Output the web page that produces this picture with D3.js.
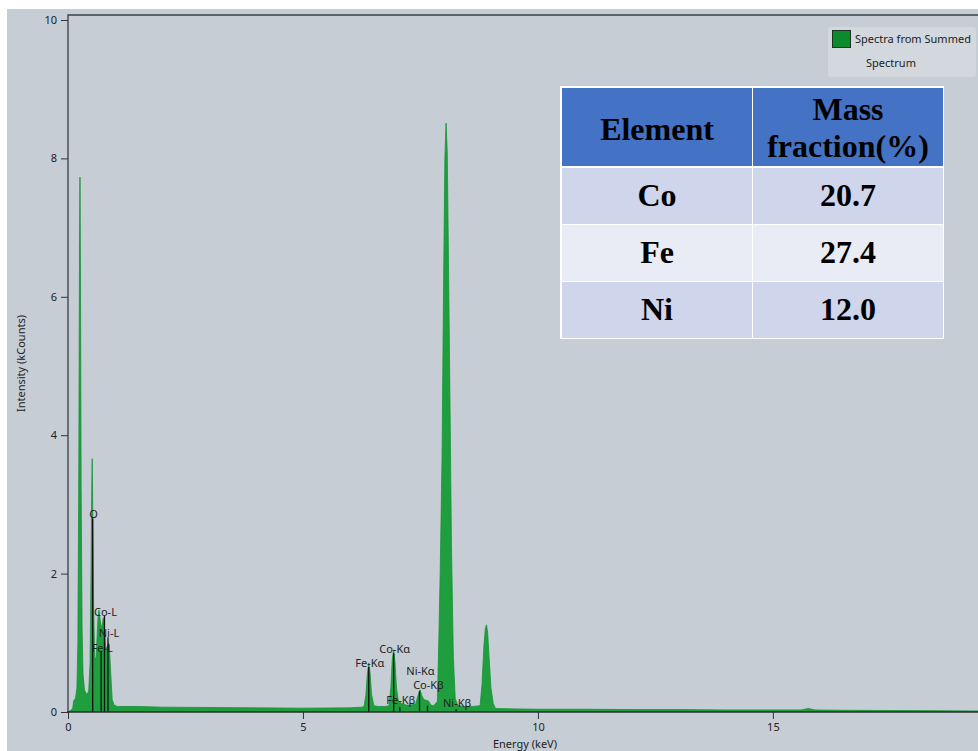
<!DOCTYPE html>
<html>
<head>
<meta charset="utf-8">
<script src="https://cdn.jsdelivr.net/npm/d3@7/dist/d3.min.js"></script>
<style>
  body { margin: 0; background: #fff; }
  text { font-family: "Noto Sans", sans-serif; }
</style>
</head>
<body>
<svg width="978" height="751"></svg>
<script>
// spectrum: energy (keV) and intensity (kCounts)
var energy = [0.00, 0.05, 0.10, 0.12, 0.16, 0.19, 0.21, 0.23, 0.245, 0.255, 0.265, 0.28, 0.30, 0.32, 0.35, 0.40,
  0.44, 0.47, 0.49, 0.505, 0.515, 0.525, 0.545, 0.57, 0.60, 0.62, 0.64, 0.66, 0.69, 0.72, 0.75, 0.77, 0.80,
  0.83, 0.86, 0.88, 0.91, 0.94, 0.98, 1.05, 1.5, 2.0, 3.0, 4.0, 5.0, 6.0, 6.25,
  6.30, 6.34, 6.37, 6.40, 6.43, 6.46, 6.51, 6.6, 6.75,
  6.83, 6.87, 6.90, 6.93, 6.96, 6.99, 7.03, 7.06, 7.10, 7.2, 7.3,
  7.40, 7.44, 7.49, 7.53, 7.57, 7.62, 7.67, 7.72, 7.78,
  7.86, 7.89, 7.92, 7.96, 7.99, 8.02, 8.045, 8.07, 8.10, 8.13, 8.16, 8.20, 8.24, 8.29, 8.4, 8.6,
  8.77, 8.81, 8.85, 8.88, 8.905, 8.93, 8.96, 9.00, 9.05, 9.1,
  9.5, 10, 11, 12, 13, 14, 15, 15.6, 15.75, 15.9, 16.5, 18, 19.45];
var counts = [0.00, 0.02, 0.05, 0.16, 0.20, 0.35, 1.0, 3.5, 6.8, 7.73, 6.5, 3.2, 1.2, 0.55, 0.32, 0.25,
  0.30, 0.70, 2.0, 3.2, 3.66, 3.0, 1.5, 0.75, 0.80, 1.10, 1.38, 1.47, 1.30, 1.20, 1.36, 1.30, 0.95,
  0.92, 1.0, 0.96, 0.55, 0.18, 0.10, 0.08, 0.08, 0.07, 0.065, 0.06, 0.055, 0.06, 0.07,
  0.08, 0.25, 0.55, 0.71, 0.55, 0.25, 0.09, 0.08, 0.08,
  0.09, 0.35, 0.75, 0.90, 0.70, 0.35, 0.16, 0.15, 0.12, 0.10, 0.10,
  0.12, 0.22, 0.32, 0.24, 0.18, 0.17, 0.16, 0.10, 0.09,
  0.15, 1.0, 2.0, 3.7, 6.0, 8.0, 8.51, 8.1, 6.3, 4.4, 2.4, 0.8, 0.2, 0.10, 0.08, 0.08,
  0.09, 0.40, 0.95, 1.20, 1.26, 1.15, 0.80, 0.35, 0.12, 0.05,
  0.045, 0.04, 0.04, 0.035, 0.035, 0.03, 0.03, 0.03, 0.05, 0.03, 0.025, 0.02, 0.015];

// element marker lines
var markerNames = ["O", "Fe-L", "Co-L", "Ni-L", "Fe-Kα", "Co-Kα", "Fe-Kβ", "Ni-Kα", "Co-Kβ", "Ni-Kβ"];
var markerEnergy = [0.525, 0.705, 0.776, 0.851, 6.40, 6.93, 7.06, 7.48, 7.65, 8.26];
var markerTop = [2.8, 0.87, 1.39, 1.08, 0.65, 0.85, 0.07, 0.30, 0.09, 0.045];
var markerLabelAt = [2.8, 0.87, 1.39, 1.08, 0.65, 0.85, 0.115, 0.53, 0.33, 0.07];

var yTicks = [0, 2, 4, 6, 8, 10];
var xTicks = [0, 5, 10, 15];

// table
var tableHead = ["Element", "Mass fraction(%)"];
var elements = ["Co", "Fe", "Ni"];
var massFraction = ["20.7", "27.4", "12.0"];

var legendLabel = ["Spectra from Summed", "Spectrum"];

(function() {
  var svg = d3.select("svg");
  var left = 68, right = 982, plotTop = 20, bottom = 712;

  svg.append("rect").attr("x", 7).attr("y", 9).attr("width", 971).attr("height", 742).attr("fill", "#c6cdd4");

  var x = d3.scaleLinear().domain([0, 19.45]).range([left, right]);
  var y = d3.scaleLinear().domain([0, 10]).range([bottom, plotTop]);

  svg.append("clipPath").attr("id", "plot")
    .append("rect").attr("x", left).attr("y", 15).attr("width", right - left).attr("height", bottom - 15);

  var pts = energy.map(function(e, i) { return [e, counts[i]]; });

  var area = d3.area()
    .x(function(d) { return x(d[0]); })
    .y0(y(0))
    .y1(function(d) { return y(d[1]); });

  svg.append("path")
    .datum(pts)
    .attr("clip-path", "url(#plot)")
    .attr("d", area)
    .attr("fill", "#1f9e3d")
    .attr("stroke", "#17933a")
    .attr("stroke-width", 0.8);

  // marker lines + labels
  var mk = svg.append("g");
  markerNames.forEach(function(name, i) {
    mk.append("line")
      .attr("x1", x(markerEnergy[i])).attr("x2", x(markerEnergy[i]))
      .attr("y1", y(0)).attr("y2", y(markerTop[i]))
      .attr("stroke", "#111").attr("stroke-width", 1.3);
    mk.append("text")
      .attr("x", x(markerEnergy[i]) + 1)
      .attr("y", y(markerLabelAt[i]))
      .attr("text-anchor", "middle")
      .attr("font-size", 11)
      .attr("fill", "#222")
      .text(name);
  });

  // axes
  var yAxis = svg.append("g")
    .attr("transform", "translate(" + left + ",0)")
    .call(d3.axisLeft(y).tickValues(yTicks).tickSize(7).tickPadding(4));
  yAxis.select(".domain").remove();
  yAxis.selectAll("line").attr("stroke", "#333");
  yAxis.selectAll("text").attr("font-size", 11).attr("fill", "#222").style("font-family", "Noto Sans");

  var xAxis = svg.append("g")
    .attr("transform", "translate(0," + bottom + ")")
    .call(d3.axisBottom(x).tickValues(xTicks).tickSize(7).tickPadding(4));
  xAxis.select(".domain").remove();
  xAxis.selectAll("line").attr("stroke", "#333");
  xAxis.selectAll("text").attr("font-size", 11).attr("fill", "#222").style("font-family", "Noto Sans");

  // frame
  svg.append("path")
    .attr("d", "M" + left + "," + bottom + "V15H" + 978)
    .attr("fill", "none").attr("stroke", "#3a3f44").attr("stroke-width", 1.3);
  svg.append("line")
    .attr("x1", left - 1).attr("x2", 978).attr("y1", bottom).attr("y2", bottom)
    .attr("stroke", "#2a2e31").attr("stroke-width", 1.5);

  svg.append("text")
    .attr("x", (left + right) / 2).attr("y", 748)
    .attr("text-anchor", "middle").attr("font-size", 11).attr("fill", "#222")
    .text("Energy (keV)");
  svg.append("text")
    .attr("transform", "translate(25," + (15 + bottom) / 2 + ") rotate(-90)")
    .attr("text-anchor", "middle").attr("font-size", 11).attr("fill", "#222")
    .text("Intensity (kCounts)");

  // legend
  var lg = svg.append("g");
  lg.append("rect").attr("x", 828).attr("y", 27).attr("width", 148).attr("height", 50).attr("rx", 3)
    .attr("fill", "#d2d8dd");
  lg.append("rect").attr("x", 832.5).attr("y", 30.5).attr("width", 18).attr("height", 17)
    .attr("fill", "#0b8b2d").attr("stroke", "#1d3322").attr("stroke-width", 1);
  lg.append("text").attr("x", 855).attr("y", 43).attr("font-size", 11).attr("fill", "#222").text(legendLabel[0]);
  lg.append("text").attr("x", 891).attr("y", 67).attr("text-anchor", "middle").attr("font-size", 11).attr("fill", "#222").text(legendLabel[1]);

  // table
  var tx = d3.scaleOrdinal().domain([0, 1]).range([562, 753]);
  var colW = [190, 190];
  var rowY = [88, 168, 225, 282];
  var rowH = [78, 56, 56, 56];
  var rowFill = ["#4472c4", "#cfd5ea", "#e9ebf5", "#cfd5ea"];
  var tb = svg.append("g");
  tb.append("rect").attr("x", 560).attr("y", 86).attr("width", 384).attr("height", 253).attr("fill", "#fff");
  rowY.forEach(function(ry, r) {
    [0, 1].forEach(function(c) {
      tb.append("rect").attr("x", tx(c)).attr("y", ry).attr("width", colW[c]).attr("height", rowH[r])
        .attr("fill", rowFill[r]);
    });
  });
  function cellText(c, baseline, str) {
    tb.append("text").attr("x", tx(c) + colW[c] / 2).attr("y", baseline)
      .attr("text-anchor", "middle").attr("font-size", 32).attr("font-weight", "bold")
      .attr("fill", "#000").style("font-family", "'Liberation Serif', 'Times New Roman', serif")
      .text(str);
  }
  cellText(0, 140, tableHead[0]);
  var headParts = tableHead[1].split(" ");
  cellText(1, 120, headParts[0]);
  cellText(1, 157, headParts[1]);
  elements.forEach(function(el, i) {
    var base = rowY[i + 1] + 38;
    cellText(0, base, el);
    cellText(1, base, massFraction[i]);
  });
})();
</script>
</body>
</html>
